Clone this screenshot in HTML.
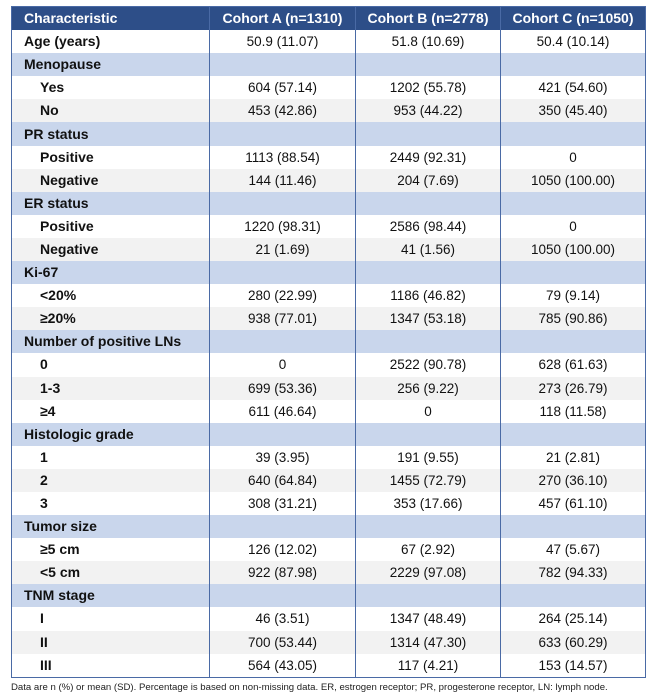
<!DOCTYPE html>
<html><head><meta charset="utf-8"><style>
body{margin:0;background:#fff;width:652px;height:696px;overflow:hidden;font-family:"Liberation Sans",Arial,sans-serif;}
table{position:absolute;left:11px;top:6px;width:634px;border-collapse:collapse;border:1.5px solid #4a6aa5;table-layout:fixed}
td,th{height:23.1px;padding:0;font-size:13.5px;color:#111;border-left:1.5px solid #4a6aa5;border-right:1.5px solid #4a6aa5;line-height:23px;white-space:nowrap}
th{background:#2d4e88;color:#fff;font-weight:bold;text-align:center;font-size:14px}
th:first-child{text-align:left;padding-left:12px}
td{text-align:center}
td:first-child{text-align:left;font-weight:bold;padding-left:12px;font-size:14px}
tr.s td{background:#c9d6ec}
tr.g td{background:#f2f2f2}
td.i{padding-left:28px!important}
.note{position:absolute;left:11px;top:682px;font-size:9.6px;color:#222;white-space:nowrap}
</style></head><body>
<table>
<colgroup><col style="width:198px"><col style="width:146px"><col style="width:145px"><col style="width:145px"></colgroup>
<tr><th>Characteristic</th><th>Cohort A (n=1310)</th><th>Cohort B (n=2778)</th><th>Cohort C (n=1050)</th></tr>
<tr><td>Age (years)</td><td>50.9 (11.07)</td><td>51.8 (10.69)</td><td>50.4 (10.14)</td></tr>
<tr class="s"><td>Menopause</td><td></td><td></td><td></td></tr>
<tr><td class="i">Yes</td><td>604 (57.14)</td><td>1202 (55.78)</td><td>421 (54.60)</td></tr>
<tr class="g"><td class="i">No</td><td>453 (42.86)</td><td>953 (44.22)</td><td>350 (45.40)</td></tr>
<tr class="s"><td>PR status</td><td></td><td></td><td></td></tr>
<tr><td class="i">Positive</td><td>1113 (88.54)</td><td>2449 (92.31)</td><td>0</td></tr>
<tr class="g"><td class="i">Negative</td><td>144 (11.46)</td><td>204 (7.69)</td><td>1050 (100.00)</td></tr>
<tr class="s"><td>ER status</td><td></td><td></td><td></td></tr>
<tr><td class="i">Positive</td><td>1220 (98.31)</td><td>2586 (98.44)</td><td>0</td></tr>
<tr class="g"><td class="i">Negative</td><td>21 (1.69)</td><td>41 (1.56)</td><td>1050 (100.00)</td></tr>
<tr class="s"><td>Ki-67</td><td></td><td></td><td></td></tr>
<tr><td class="i">&lt;20%</td><td>280 (22.99)</td><td>1186 (46.82)</td><td>79 (9.14)</td></tr>
<tr class="g"><td class="i">≥20%</td><td>938 (77.01)</td><td>1347 (53.18)</td><td>785 (90.86)</td></tr>
<tr class="s"><td>Number of positive LNs</td><td></td><td></td><td></td></tr>
<tr><td class="i">0</td><td>0</td><td>2522 (90.78)</td><td>628 (61.63)</td></tr>
<tr class="g"><td class="i">1-3</td><td>699 (53.36)</td><td>256 (9.22)</td><td>273 (26.79)</td></tr>
<tr><td class="i">≥4</td><td>611 (46.64)</td><td>0</td><td>118 (11.58)</td></tr>
<tr class="s"><td>Histologic grade</td><td></td><td></td><td></td></tr>
<tr><td class="i">1</td><td>39 (3.95)</td><td>191 (9.55)</td><td>21 (2.81)</td></tr>
<tr class="g"><td class="i">2</td><td>640 (64.84)</td><td>1455 (72.79)</td><td>270 (36.10)</td></tr>
<tr><td class="i">3</td><td>308 (31.21)</td><td>353 (17.66)</td><td>457 (61.10)</td></tr>
<tr class="s"><td>Tumor size</td><td></td><td></td><td></td></tr>
<tr><td class="i">≥5 cm</td><td>126 (12.02)</td><td>67 (2.92)</td><td>47 (5.67)</td></tr>
<tr class="g"><td class="i">&lt;5 cm</td><td>922 (87.98)</td><td>2229 (97.08)</td><td>782 (94.33)</td></tr>
<tr class="s"><td>TNM stage</td><td></td><td></td><td></td></tr>
<tr><td class="i">I</td><td>46 (3.51)</td><td>1347 (48.49)</td><td>264 (25.14)</td></tr>
<tr class="g"><td class="i">II</td><td>700 (53.44)</td><td>1314 (47.30)</td><td>633 (60.29)</td></tr>
<tr><td class="i">III</td><td>564 (43.05)</td><td>117 (4.21)</td><td>153 (14.57)</td></tr>
</table>
<div class="note">Data are n (%) or mean (SD). Percentage is based on non-missing data. ER, estrogen receptor; PR, progesterone receptor, LN: lymph node.</div>
</body></html>
